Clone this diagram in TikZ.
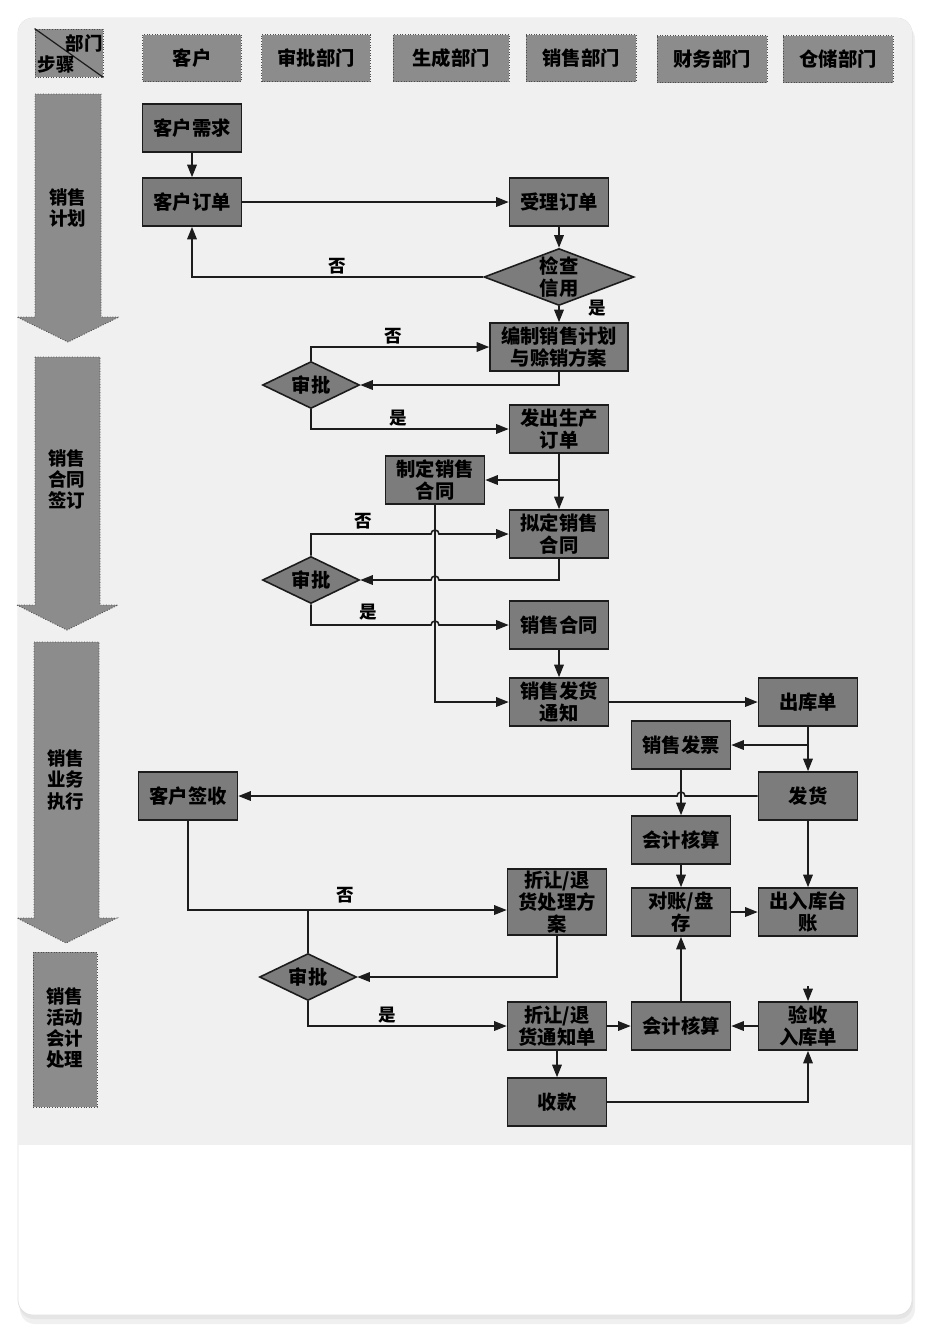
\documentclass[tikz,border=0pt]{standalone}
\usepackage{fontspec}
\newfontfamily\cjk{Noto Sans CJK SC}
\usetikzlibrary{shapes.geometric, arrows.meta, calc, positioning}
\definecolor{boxcol}{RGB}{124,124,124}
\definecolor{bandcol}{RGB}{140,140,140}
\definecolor{papercol}{RGB}{240,240,240}
\definecolor{linecol}{RGB}{28,28,28}

\begin{document}
\begin{tikzpicture}[
			x=0.02cm, y=-0.02cm,
			proc/.style={
				draw=linecol,
				fill=boxcol,
				line width=0.9pt,
				minimum width=1.98cm,
				minimum height=0.96cm,
				inner sep=1pt,
				align=center,
				font=\cjk\bfseries\fontsize{11}{12.5}\selectfont
			},
			decision/.style={
				diamond,
				draw=linecol,
				fill=boxcol,
				line width=0.9pt,
				aspect=2,
				minimum width=1.94cm,
				minimum height=0.94cm,
				inner sep=0pt,
				align=center,
				font=\cjk\bfseries\fontsize{11}{12.5}\selectfont
			},
			dept/.style={
				fill=bandcol,
				draw=bandcol!55!black,
				densely dotted,
				line width=0.5pt,
				minimum height=0.94cm,
				inner sep=1pt,
				font=\cjk\bfseries\fontsize{11}{12.5}\selectfont
			},
			stage/.style={
				fill=bandcol,
				draw=bandcol!55!black,
				densely dotted,
				line width=0.5pt
			},
			stagetxt/.style={
				align=center,
				inner sep=0pt,
				font=\cjk\bfseries\fontsize{10.5}{12}\selectfont
			},
			lbl/.style={
				inner sep=1pt,
				font=\cjk\bfseries\fontsize{10}{11}\selectfont
			},
			link/.style={
				draw=linecol,
				line width=0.9pt
			},
			arr/.style={
				link,
				-{Triangle[length=2.5mm, width=1.9mm]}
			}
			]
			\useasboundingbox (0,0) rectangle (930,1333);
			
			% Page and scan
			\fill[white] (0,0) rectangle (930,1333);
			\fill[black!6, rounded corners=0.3cm] (20,24) rectangle (915,1324);
			\fill[black!10, rounded corners=0.3cm] (19,21) rectangle (913,1319);
			\draw[black!12, fill=white, rounded corners=0.3cm] (18,18) rectangle (912,1315);
			\begin{scope}
				\clip[rounded corners=0.3cm] (18,18) rectangle (912,1315);
				\fill[papercol] (18,18) rectangle (912,1145);
			\end{scope}
			
			% Departments
			\node[dept, minimum width=1.36cm, minimum height=0.96cm] (corner) at (69,53) {};
			\draw[linecol, line width=0.7pt] (corner.north west) -- (corner.south east);
			\node[lbl, font=\cjk\bfseries\fontsize{10.5}{12}\selectfont] (dlbl) at (84,43) {部门};
			\node[lbl, font=\cjk\bfseries\fontsize{10.5}{12}\selectfont] (slbl) at (56,64) {步骤};
			\node[dept, minimum width=1.98cm] (hcust) at (192,58) {客户};
			\node[dept, minimum width=2.18cm] (happr) at (316,58) {审批部门};
			\node[dept, minimum width=2.32cm] (hprod) at (451,58) {生成部门};
			\node[dept, minimum width=2.2cm] (hsale) at (581,58) {销售部门};
			\node[dept, minimum width=2.2cm] (hfin) at (712,59) {财务部门};
			\node[dept, minimum width=2.2cm] (hstore) at (838,59) {仓储部门};
			
			% Steps
			\path[stage] (35,94) -- (101,94) -- (101,317) -- (119,317) -- (68,342) -- (17,317) -- (35,317) -- cycle;
			\node[stagetxt] (st1) at (68,208) {销售\\计划};
			\path[stage] (35,357) -- (100,357) -- (100,605) -- (118,605) -- (67,630) -- (17,605) -- (35,605) -- cycle;
			\node[stagetxt] (st2) at (67,479) {销售\\合同\\签订};
			\path[stage] (34,642) -- (99,642) -- (99,918) -- (117,918) -- (66,943) -- (17,918) -- (34,918) -- cycle;
			\node[stagetxt] (st3) at (66,780) {销售\\业务\\执行};
			\path[stage] (33,952) rectangle (97,1107);
			\node[stagetxt] (st4) at (65,1028) {销售\\活动\\会计\\处理};
			
			% Flow
			\node[proc] (need) at (192,128) {客户需求};
			\node[proc] (order) at (192,202) {客户订单};
			\node[proc] (accept) at (559,202) {受理订单};
			\node[decision, aspect=2.6, minimum width=3cm, minimum height=1.14cm] (credit) at (559,277) {检查\\信用};
			\node[proc, minimum width=2.76cm] (plan) at (559,347) {编制销售计划\\与赊销方案};
			\node[decision] (appr1) at (311,385) {审批};
			\node[proc] (prodord) at (559,429) {发出生产\\订单};
			\node[proc] (make) at (435,480) {制定销售\\合同};
			\node[proc] (draft) at (559,534) {拟定销售\\合同};
			\node[decision] (appr2) at (311,580) {审批};
			\node[proc] (contract) at (559,625) {销售合同};
			\node[proc] (notice) at (559,702) {销售发货\\通知};
			\node[proc] (outbound) at (808,702) {出库单};
			\node[proc] (invoice) at (681,745) {销售发票};
			\node[proc] (ship) at (808,796) {发货};
			\node[proc] (sign) at (188,796) {客户签收};
			\node[proc] (acct1) at (681,840) {会计核算};
			\node[proc] (check) at (681,912) {对账/盘\\存};
			\node[proc] (ledger) at (808,912) {出入库台\\账};
			\node[proc, minimum height=1.32cm] (remedy) at (557,902) {折让/退\\货处理方\\案};
			\node[decision] (appr3) at (308,977) {审批};
			\node[proc] (retnote) at (557,1026) {折让/退\\货通知单};
			\node[proc] (acct2) at (681,1026) {会计核算};
			\node[proc] (recv) at (808,1026) {验收\\入库单};
			\node[proc] (pay) at (557,1102) {收款};
			
			% Crossings and joins
			\coordinate (hop1) at (make.south |- appr2.east);
			\coordinate (hop2) at (make.south |- draft.west);
			\coordinate (hop3) at (make.south |- contract.west);
			\coordinate (hop4) at (invoice.south |- ship.west);
			\coordinate (join) at (308,910);
			\coordinate (stub) at (808,986);
			
			% Connectors
			\draw[arr] (need) -- (order);
			\draw[arr] (order) -- (accept);
			\draw[arr] (accept) -- (credit);
			\draw[arr] (credit.west) -| node[lbl, pos=0.25, above] (no1) {否} (order.south);
			\draw[arr] (credit) -- (plan);
			\node[lbl] (yes1) at (597,308) {是};
			\draw[arr] (plan.south) |- (appr1.east);
			\draw[arr] (appr1.north) |- node[lbl, pos=0.73, above] (no2) {否} (plan.west);
			\draw[arr] (appr1.south) |- node[lbl, pos=0.72, above] (yes2) {是} (prodord.west);
			\draw[arr] (prodord) -- (draft);
			\draw[arr] (prodord.south |- make.east) -- (make.east);
			\draw[arr] (draft.south) |- ($(hop1)+(4,0)$) arc[start angle=0, end angle=180, radius=0.08cm] -- (appr2.east);
			\draw[arr] (appr2.north) |- ($(hop2)+(-4,0)$) arc[start angle=180, end angle=0, radius=0.08cm] -- (draft.west);
			\node[lbl] (no3) at (363,521) {否};
			\draw[arr] (appr2.south) |- ($(hop3)+(-4,0)$) arc[start angle=180, end angle=0, radius=0.08cm] -- (contract.west);
			\node[lbl] (yes3) at (368,612) {是};
			\draw[arr] (contract) -- (notice);
			\draw[arr] (make.south) |- (notice.west);
			\draw[arr] (notice) -- (outbound);
			\draw[arr] (outbound) -- (ship);
			\draw[arr] (outbound.south |- invoice.east) -- (invoice.east);
			\draw[arr] (ship.west) -- ($(hop4)+(4,0)$) arc[start angle=0, end angle=180, radius=0.08cm] -- (sign.east);
			\draw[arr] (invoice) -- (acct1);
			\draw[arr] (acct1) -- (check);
			\draw[arr] (ship) -- (ledger);
			\draw[arr] (check) -- (ledger);
			\draw[arr] (sign.south) |- (join) -- (join -| remedy.west);
			\node[lbl] (no4) at (345,895) {否};
			\draw[link] (appr3.north) -- (join);
			\draw[arr] (remedy.south) |- (appr3.east);
			\draw[arr] (appr3.south) |- node[lbl, pos=0.70, above] (yes4) {是} (retnote.west);
			\draw[arr] (retnote) -- (acct2);
			\draw[arr] (acct2) -- (check);
			\draw[arr] (recv) -- (acct2);
			\draw[arr] (stub) -- (recv.north);
			\draw[arr] (retnote) -- (pay);
			\draw[arr] (pay.east) -| (recv.south);
		\end{tikzpicture}
\end{document}
